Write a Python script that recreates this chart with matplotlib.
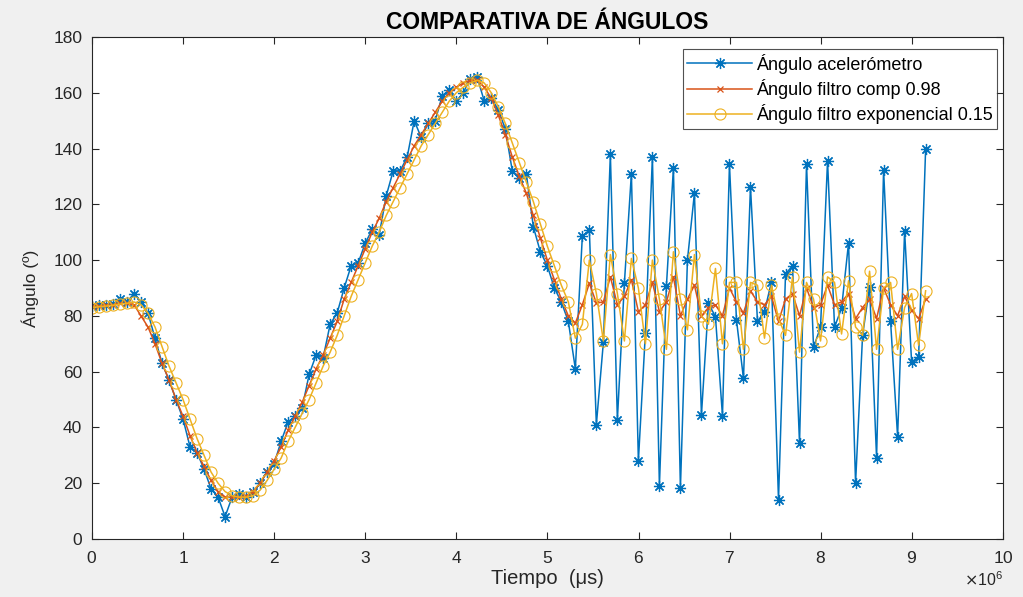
import numpy as np
import matplotlib.pyplot as plt

# ----- data -----
dt_us = 76900  # sampling period (us)

ang_acc = [83.5, 83.8, 84.0, 84.3, 86.0, 85.0, 88.0, 85.0, 81.0, 72.0,
           63.0, 57.0, 50.0, 43.0, 33.0, 31.0, 25.0, 18.0, 15.0, 8.0,
           15.0, 16.0, 15.0, 17.0, 20.0, 24.0, 27.0, 35.0, 42.0, 44.0,
           47.0, 59.0, 66.0, 65.0, 77.0, 81.0, 90.0, 98.0, 99.0, 106.0,
           111.0, 109.0, 123.0, 132.0, 132.0, 137.0, 150.0, 144.0, 149.0, 150.0,
           159.0, 161.0, 157.0, 160.0, 165.0, 165.5, 157.0, 158.0, 154.0, 147.0,
           132.0, 129.5, 131.0, 112.0, 103.0, 98.0, 90.0, 85.0, 78.0, 61.0,
           108.6, 110.8, 41.0, 70.5, 138.0, 42.7, 91.7, 131.0, 28.0, 74.0,
           137.0, 19.0, 90.7, 133.0, 18.2, 100.0, 124.0, 44.5, 84.5, 79.7,
           44.2, 134.3, 78.5, 57.6, 126.3, 78.0, 81.5, 92.3, 14.0, 95.0,
           98.0, 34.3, 134.5, 68.7, 76.0, 135.6, 76.0, 82.7, 106.2, 20.0,
           73.0, 90.5, 29.0, 132.3, 78.0, 36.7, 110.4, 63.4, 65.4, 139.7]

ang_comp = [83.5, 83.6, 83.8, 84.0, 84.5, 84.5, 84.0, 80.0, 76.0, 70.0,
            63.0, 57.0, 50.0, 44.0, 37.0, 31.0, 26.0, 21.0, 17.0, 15.0,
            15.0, 15.0, 15.5, 17.0, 20.0, 24.0, 28.0, 33.0, 39.0, 44.0,
            49.0, 55.0, 61.0, 66.0, 72.0, 78.0, 86.0, 92.0, 98.0, 104.0,
            110.0, 115.0, 121.0, 126.0, 131.0, 136.0, 141.0, 145.0, 149.0, 153.0,
            157.0, 160.0, 162.0, 163.5, 164.5, 164.5, 162.0, 158.0, 152.0, 145.0,
            137.0, 130.0, 124.0, 116.0, 108.0, 100.0, 93.0, 86.0, 80.0, 77.4,
            84.0, 91.7, 84.6, 85.0, 94.0, 84.0, 87.0, 93.0, 81.5, 84.0,
            92.0, 81.5, 85.0, 94.0, 80.0, 86.0, 91.0, 80.0, 83.0, 84.0,
            80.0, 90.0, 85.0, 81.0, 89.0, 85.0, 84.0, 87.0, 78.0, 86.0,
            88.0, 80.0, 90.0, 83.0, 84.0, 91.0, 84.0, 85.0, 88.0, 79.0,
            83.0, 86.0, 79.0, 90.0, 84.0, 80.0, 87.0, 82.0, 79.0, 86.0]

ang_exp = [83.0, 83.3, 83.5, 83.8, 84.2, 84.5, 85.0, 84.0, 81.0, 76.0,
           69.0, 62.0, 56.0, 50.0, 43.0, 36.0, 30.0, 24.0, 20.0, 17.0,
           15.5, 15.0, 15.0, 15.5, 17.5, 21.0, 25.0, 29.0, 35.0, 40.0,
           45.0, 50.0, 56.0, 62.0, 67.0, 73.0, 80.0, 87.0, 93.0, 99.0,
           105.0, 110.0, 116.0, 121.0, 126.0, 131.0, 136.0, 141.0, 145.0, 149.0,
           153.0, 157.0, 160.0, 162.0, 163.5, 164.5, 163.5, 160.0, 155.0, 149.0,
           142.0, 135.0, 128.0, 121.0, 113.0, 105.0, 98.0, 91.0, 85.0, 72.0,
           77.0, 100.0, 88.0, 71.0, 102.0, 88.0, 71.0, 100.6, 90.0, 70.0,
           100.0, 86.0, 68.0, 103.0, 86.0, 75.0, 102.0, 80.0, 77.0, 97.0,
           70.0, 92.0, 92.0, 68.0, 92.0, 91.0, 72.0, 91.0, 79.0, 73.0,
           94.0, 67.0, 92.0, 86.0, 71.0, 94.0, 92.0, 73.5, 92.6, 76.0,
           73.0, 96.0, 68.0, 90.0, 92.0, 68.0, 83.0, 88.0, 69.5, 89.0]

labels = ['Ángulo acelerómetro', 'Ángulo filtro comp 0.98',
          'Ángulo filtro exponencial 0.15']

t = np.arange(len(ang_acc)) * dt_us

plt.rcParams['font.family'] = ['Liberation Sans', 'DejaVu Sans']

fig = plt.figure(figsize=(10.23, 5.97), dpi=100, facecolor='#f0f0f0')
ax = fig.add_axes([0.0899, 0.0972, 0.8905, 0.8408])

asterisk = (8, 2, 0)
ax.plot(t, ang_acc, color='#0072BD', lw=1.1, marker=asterisk, ms=8, mew=0.9,
        label=labels[0])
ax.plot(t, ang_comp, color='#D95319', lw=1.1, marker='x', ms=5, mew=0.9,
        label=labels[1])
ax.plot(t, ang_exp, color='#EDB120', lw=1.1, marker='o', ms=8, mew=0.8,
        mfc='none', label=labels[2])

ax.set_xlim(0, 1e7)
ax.set_ylim(0, 180)
ax.set_xticks(np.arange(0, 1.01e7, 1e6))
ax.set_yticks(np.arange(0, 181, 20))
ax.ticklabel_format(axis='x', style='sci', scilimits=(6, 6), useMathText=True)
ax.xaxis.get_offset_text().set_fontsize(11.5)
ax.xaxis.get_offset_text().set_color('#262626')

ax.tick_params(direction='in', top=True, right=True, labelsize=12.5,
               colors='#262626', length=5, width=0.8)
ax.tick_params(axis='x', pad=8)
ax.tick_params(axis='y', pad=7)
for s in ax.spines.values():
    s.set_color('#262626')
    s.set_linewidth(0.8)

ax.set_title('COMPARATIVA DE ÁNGULOS', fontsize=16.5, fontweight='bold',
             color='black', pad=6)
ax.set_xlabel('Tiempo  (μs)', fontsize=14.5, color='#262626', labelpad=2)
ax.set_ylabel('Ángulo (º)', fontsize=12.5, color='#262626', labelpad=10)

leg = ax.legend(loc='upper right', fontsize=13, frameon=True, fancybox=False,
                borderpad=0.25, handlelength=3.6, handletextpad=0.2,
                labelspacing=0.3, borderaxespad=0,
                bbox_to_anchor=(0.9935, 0.976))
leg.get_frame().set_edgecolor('#262626')
leg.get_frame().set_linewidth(0.8)

fig.savefig('out.png', dpi=100, facecolor=fig.get_facecolor())
